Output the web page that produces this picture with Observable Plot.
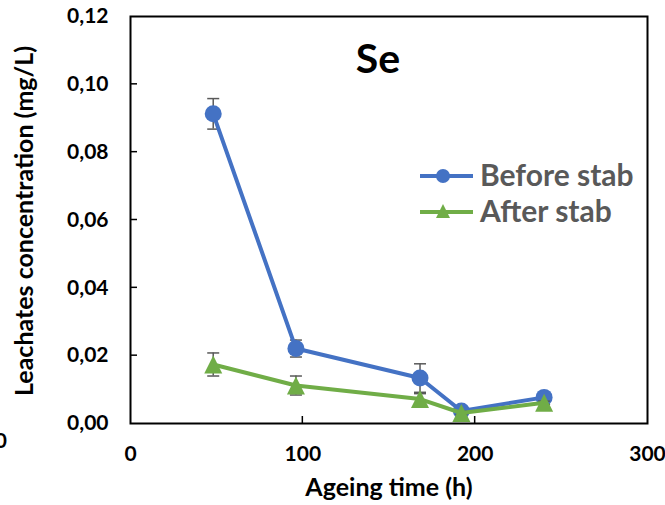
<!DOCTYPE html>
<html>
<head>
<meta charset="utf-8">
<script src="https://cdn.jsdelivr.net/npm/d3@7"></script>
<script src="https://cdn.jsdelivr.net/npm/@observablehq/plot@0.6"></script>
<style>
  html, body { margin: 0; padding: 0; background: #fff; }
  #chart { width: 665px; height: 505px; overflow: hidden; }
</style>
</head>
<body>
<div id="chart"></div>
<script>
// ---- data ----
const hours = [48, 96, 168, 192, 240];
const before = [0.0913, 0.0221, 0.0134, 0.0037, 0.0077];
const beforeErr = [0.0045, 0.0025, 0.0042, 0.0005, 0.0005];
const after = [0.0174, 0.0112, 0.0072, 0.0031, 0.0061];
const afterErr = [0.0034, 0.0028, 0.0016, 0.0005, 0.0005];
const xTicks = [0, 100, 200, 300];
const yTicks = [0, 0.02, 0.04, 0.06, 0.08, 0.10, 0.12];
const seriesNames = ["Before stab", "After stab"];
const titleText = "Se";
const xLabel = "Ageing time (h)";
const yLabel = "Leachates concentration (mg/L)";

const BLUE = "#4472C4", GREEN = "#70AD47", ERR = "#595959";

const rowsB = hours.map((h, i) => ({x: h, y: before[i], e: beforeErr[i]}));
const rowsA = hours.map((h, i) => ({x: h, y: after[i], e: afterErr[i]}));

const tri = {draw(ctx, size) { const r = Math.sqrt(size / Math.PI); ctx.moveTo(0, -r); ctx.lineTo(r, r); ctx.lineTo(-r, r); ctx.closePath(); }};
const cap = {draw(ctx, size) { const r = Math.sqrt(size / Math.PI); ctx.moveTo(-r, 0); ctx.lineTo(r, 0); }};

function errMarks(rows) {
  return [
    Plot.ruleX(rows, {x: "x", y1: d => d.y - d.e, y2: d => d.y + d.e, stroke: ERR, strokeWidth: 1.5}),
    Plot.dot(rows, {x: "x", y: d => d.y - d.e, symbol: cap, r: 6, stroke: ERR, strokeWidth: 1.5, fill: "none"}),
    Plot.dot(rows, {x: "x", y: d => d.y + d.e, symbol: cap, r: 6, stroke: ERR, strokeWidth: 1.5, fill: "none"})
  ];
}

const fmt = d => d.toFixed(2).replace(".", ",");

const p = Plot.plot({
  width: 665, height: 505,
  marginLeft: 130, marginRight: 18, marginTop: 16, marginBottom: 82,
  style: {fontFamily: "Lato, 'Open Sans', sans-serif", fontSize: "21px", fontWeight: "bold", color: "black", background: "white", overflow: "visible"},
  x: {domain: [0, 300], ticks: xTicks},
  y: {domain: [0, 0.12], ticks: yTicks},
  marks: [
    Plot.axisX({ticks: xTicks, tickSize: 0, tickPadding: 23, label: null, tickFormat: d => String(d)}),
    Plot.axisY({ticks: yTicks, tickSize: 0, tickPadding: 22, label: null, tickFormat: fmt}),
    ...errMarks(rowsB),
    Plot.line(rowsB, {x: "x", y: "y", stroke: BLUE, strokeWidth: 4}),
    Plot.dot(rowsB, {x: "x", y: "y", r: 8.5, fill: BLUE, stroke: "none"}),
    ...errMarks(rowsA),
    Plot.line(rowsA, {x: "x", y: "y", stroke: GREEN, strokeWidth: 4}),
    Plot.dot(rowsA, {x: "x", y: "y", r: 9, symbol: tri, fill: GREEN, stroke: "none"}),
    Plot.frame({stroke: "black", strokeWidth: 2})
  ]
});

document.getElementById("chart").appendChild(p);

const svg = d3.select(p);
const xs = p.scale("x"), ys = p.scale("y");
const x0 = xs.apply(0), y0 = ys.apply(0);

// inward tick marks
const tg = svg.append("g").attr("stroke", "black").attr("stroke-width", 1.5);
yTicks.filter(v => v > 0 && v < 0.12).forEach(v => {
  const yy = ys.apply(v);
  tg.append("line").attr("x1", x0).attr("x2", x0 + 7).attr("y1", yy).attr("y2", yy);
});
xTicks.filter(v => v > 0 && v < 300).forEach(v => {
  const xx = xs.apply(v);
  tg.append("line").attr("x1", xx).attr("x2", xx).attr("y1", y0).attr("y2", y0 - 7);
});

// title
svg.append("text").attr("x", 378).attr("y", 73).attr("text-anchor", "middle")
  .attr("font-size", 41).attr("font-weight", "bold").attr("fill", "black").text(titleText);

// axis titles
svg.append("text").attr("x", 389).attr("y", 496).attr("text-anchor", "middle")
  .attr("font-size", 25).attr("font-weight", "bold").attr("fill", "black").text(xLabel);
svg.append("text").attr("transform", "translate(33,221) rotate(-90)").attr("text-anchor", "middle")
  .attr("font-size", 25).attr("font-weight", "bold").attr("fill", "black").text(yLabel);

// clipped label at the left edge, as in the reference
svg.append("text").attr("x", 7).attr("y", 448).attr("text-anchor", "end")
  .attr("font-size", 21).attr("font-weight", "bold").attr("fill", "black").text("0");

// legend
const lg = svg.append("g");
const legendItems = [
  {name: seriesNames[0], color: BLUE, sym: "circle", y: 176},
  {name: seriesNames[1], color: GREEN, sym: "tri", y: 212}
];
legendItems.forEach(it => {
  lg.append("line").attr("x1", 420).attr("x2", 473).attr("y1", it.y).attr("y2", it.y)
    .attr("stroke", it.color).attr("stroke-width", 4);
  if (it.sym === "circle") {
    lg.append("circle").attr("cx", 443).attr("cy", it.y).attr("r", 7).attr("fill", it.color);
  } else {
    lg.append("path").attr("d", d3.symbol(tri, Math.PI * 7 * 7)()).attr("transform", `translate(443,${it.y - 1})`).attr("fill", it.color);
  }
  lg.append("text").attr("x", 480).attr("y", it.y + 10).attr("text-anchor", "start")
    .attr("font-size", 30).attr("font-weight", "bold")
    .attr("fill", "#595959").text(it.name);
});
</script>
</body>
</html>
